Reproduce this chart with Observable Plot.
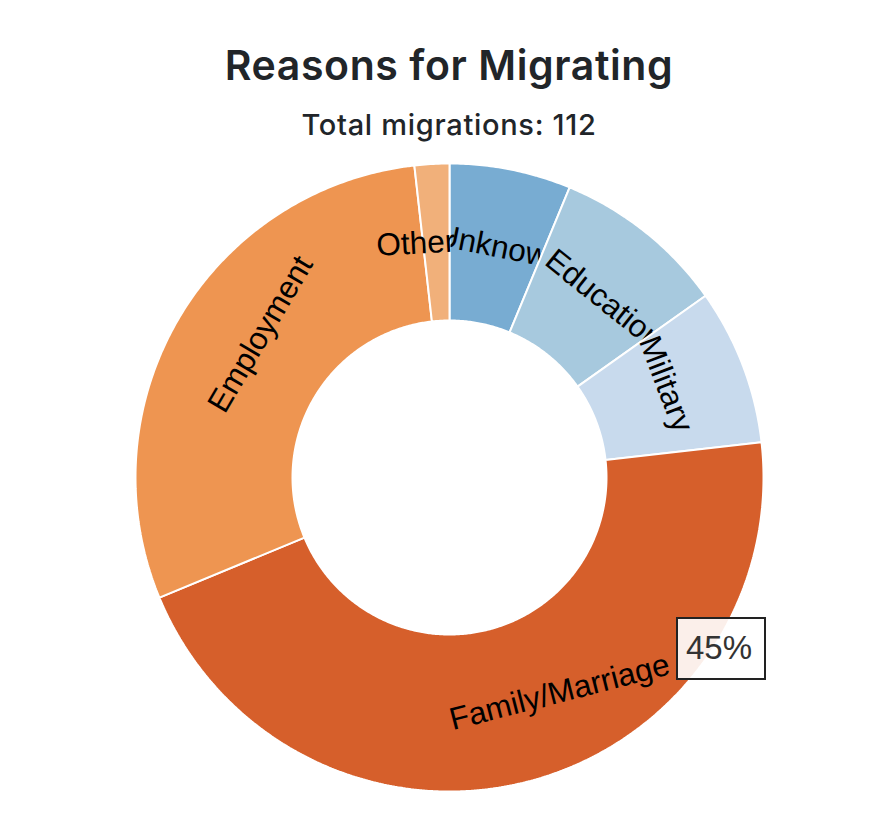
<!DOCTYPE html>
<html>
<head>
<meta charset="utf-8">
<script src="https://cdn.jsdelivr.net/npm/d3@7"></script>
<script src="https://cdn.jsdelivr.net/npm/@observablehq/plot@0.6"></script>
<style>
  html, body { margin: 0; padding: 0; background: #fff; overflow: hidden; }
  #wrap { position: relative; width: 876px; height: 840px; overflow: hidden; }
  .title { position: absolute; left: 0; width: 898px; text-align: center; color: #212529;
           font-family: Inter, "Noto Sans", sans-serif; }
  #t1 { top: 43px; font-size: 41px; font-weight: 600; line-height: 44px; letter-spacing: 0.6px; }
  #t2 { top: 110px; font-size: 29px; font-weight: 500; line-height: 30px; letter-spacing: 0.7px; }
  #chart { position: absolute; left: 0; top: 147px; }
  #tip { position: absolute; background: rgba(255,255,255,0.9); border: 2px solid #222;
         color: #333; font-family: "Liberation Sans", Arial, sans-serif; font-size: 33px;
         line-height: 38px; padding: 10px 11px 10px 8px; box-sizing: border-box; }
</style>
</head>
<body>
<div id="wrap">
  <div class="title" id="t1"></div>
  <div class="title" id="t2"></div>
  <div id="chart"></div>
  <div id="tip"></div>
</div>
<script>
// ---- data ----
const categories = ["Unknown", "Education", "Military", "Family/Marriage", "Employment", "Other"];
const counts = [7, 10, 9, 51, 33, 2];
const colors = ["#78acd2", "#a7c9de", "#c8daed", "#d65f2b", "#ee9551", "#f1b07a"];
const titleText = "Reasons for Migrating";
const hovered = "Family/Marriage";

const total = d3.sum(counts);
document.getElementById("t1").textContent = titleText;
document.getElementById("t2").textContent = "Total migrations: " + total;

// ---- geometry (data units = px) ----
const R_OUT = 314, R_IN = 157, R_LABEL = (R_OUT + R_IN) / 2, LABEL_BACK = 60;
const W = 876, H = 680, CX = 449, CY = 330;

let acc = 0;
const slices = categories.map((name, i) => {
  const a0 = acc / total * 360;
  acc += counts[i];
  const a1 = acc / total * 360;
  return {name, value: counts[i], color: colors[i], a0, a1, mid: (a0 + a1) / 2};
});

const rad = d => d * Math.PI / 180;
function ring(s) {
  const pts = [];
  const n = Math.max(4, Math.ceil((s.a1 - s.a0) / 0.5));
  for (let k = 0; k <= n; k++) {
    const a = rad(s.a0 + (s.a1 - s.a0) * k / n);
    pts.push({x: R_OUT * Math.sin(a), y: R_OUT * Math.cos(a)});
  }
  for (let k = n; k >= 0; k--) {
    const a = rad(s.a0 + (s.a1 - s.a0) * k / n);
    pts.push({x: R_IN * Math.sin(a), y: R_IN * Math.cos(a)});
  }
  return pts;
}
function label(s) {
  const m = s.mid;
  const rot = (m > 90 && m < 270) ? m - 180 : (m >= 270 ? m - 360 : m);
  const cx = R_LABEL * Math.sin(rad(m)), cy = R_LABEL * Math.cos(rad(m));
  return [{
    x: cx - LABEL_BACK * Math.cos(rad(rot)),
    y: cy + LABEL_BACK * Math.sin(rad(rot)),
    rot, text: s.name
  }];
}

const marks = [];
for (const s of slices) {
  marks.push(Plot.line(ring(s), {
    x: "x", y: "y", curve: "linear-closed",
    fill: s.color, stroke: "white", strokeWidth: 2, strokeLinejoin: "miter"
  }));
  marks.push(Plot.text(label(s), {
    x: "x", y: "y", text: "text", rotate: "rot",
    textAnchor: "start", lineAnchor: "middle",
    fontSize: 31.5, fill: "black", fontFamily: "Liberation Sans, Arial, sans-serif"
  }));
}

const plot = Plot.plot({
  width: W, height: H,
  margin: 0, inset: 0,
  x: {type: "linear", domain: [-CX, W - CX], axis: null},
  y: {type: "linear", domain: [-(H - CY), CY], axis: null},
  style: {background: "transparent", overflow: "visible"},
  marks
});
document.getElementById("chart").appendChild(plot);

// tooltip for hovered slice
const hs = slices.find(s => s.name === hovered);
const tip = document.getElementById("tip");
tip.textContent = Math.floor(hs.value / total * 100) + "%";
tip.style.left = "676px";
tip.style.top = "617px";
tip.style.width = "90px";
tip.style.height = "63px";
</script>
</body>
</html>
